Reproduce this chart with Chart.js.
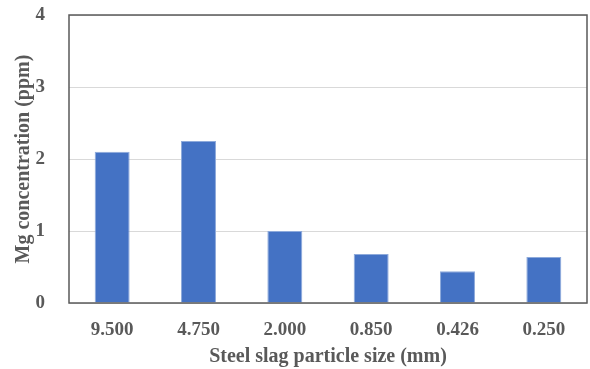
<!DOCTYPE html>
<html>
<head>
<meta charset="utf-8">
<script src="https://cdn.jsdelivr.net/npm/chart.js@4"></script>
<style>
  html, body { margin: 0; padding: 0; background: #fff; }
  #wrap { width: 590px; height: 369px; }
</style>
</head>
<body>
<div id="wrap"><canvas id="mgChart" width="590" height="369"></canvas></div>
<script>
// particle sizes and Mg values
const sizes = ["9.500", "4.750", "2.000", "0.850", "0.426", "0.250"];
const mgValues = [2.10, 2.25, 1.00, 0.68, 0.44, 0.64];
const yTicks = [0, 1, 2, 3, 4];

const textGray = "#595959";
const serif = "'Liberation Serif', 'Times New Roman', serif";

// box round the plot area
const plotBox = {
  id: "plotBox",
  afterDraw(chart) {
    const a = chart.chartArea;
    const c = chart.ctx;
    c.save();
    c.strokeStyle = "#595959";
    c.lineWidth = 1.5;
    c.strokeRect(a.left, a.top, a.right - a.left, a.bottom - a.top);
    c.restore();
  }
};

const ctx = document.getElementById("mgChart").getContext("2d");
new Chart(ctx, {
  type: "bar",
  data: {
    labels: sizes,
    datasets: [{
      label: "Mg",
      data: mgValues,
      backgroundColor: "#4472c4",
      borderColor: "#8eaadb",
      borderWidth: 1,
      categoryPercentage: 1,
      barPercentage: 0.405
    }]
  },
  options: {
    responsive: false,
    animation: false,
    layout: { padding: { top: 15, right: 3, left: 0, bottom: 0 } },
    plugins: {
      legend: { display: false },
      tooltip: { enabled: false }
    },
    scales: {
      x: {
        grid: { display: false, drawTicks: false },
        border: { display: false },
        ticks: {
          color: textGray,
          padding: 16,
          font: { family: serif, size: 19, weight: "bold" }
        },
        title: {
          display: true,
          text: "Steel slag particle size (mm)",
          color: textGray,
          padding: { top: 0, bottom: 0 },
          font: { family: serif, size: 20, weight: "bold" }
        },
        afterFit(scale) {
          scale.height = 66;
          scale.paddingLeft = 0;
          scale.paddingRight = 0;
        }
      },
      y: {
        min: 0,
        max: 4,
        afterBuildTicks(scale) { scale.ticks = yTicks.map(v => ({ value: v })); },
        grid: { color: "#d9d9d9", lineWidth: 1, drawTicks: false },
        border: { display: false },
        ticks: {
          color: textGray,
          padding: 24,
          font: { family: serif, size: 19, weight: "bold" }
        },
        title: {
          display: true,
          text: "Mg concentration (ppm)",
          color: textGray,
          padding: { top: 12, bottom: 0 },
          font: { family: serif, size: 20, weight: "bold" }
        },
        afterFit(scale) {
          scale.width = 69;
          scale.paddingTop = 0;
          scale.paddingBottom = 0;
        }
      }
    }
  },
  plugins: [plotBox]
});
</script>
</body>
</html>
